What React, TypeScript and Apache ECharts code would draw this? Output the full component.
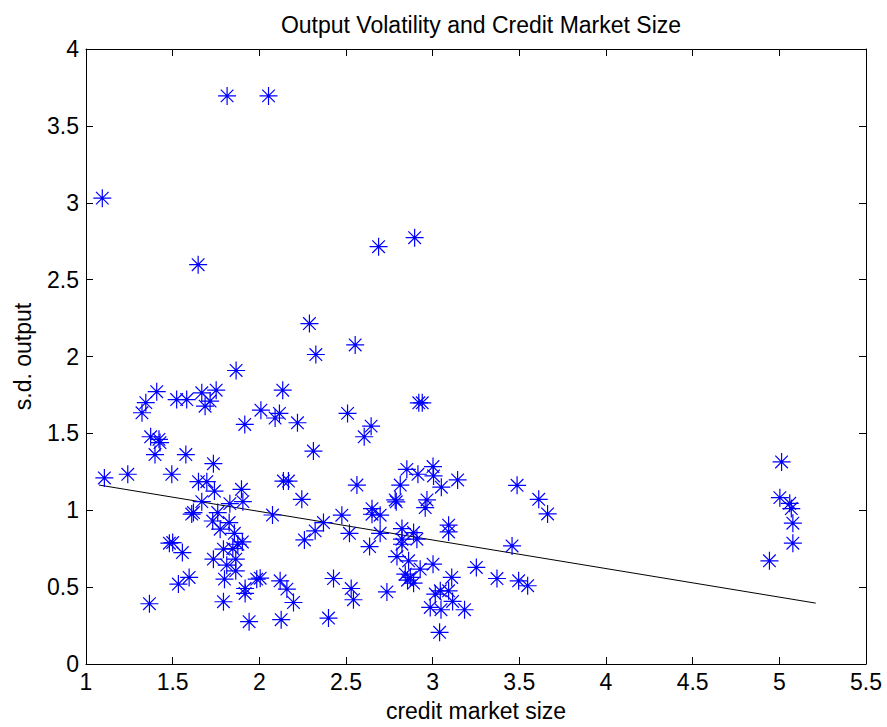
import React, { useEffect, useRef } from "react";
import * as echarts from "echarts";

const creditSize = [
  1.094, 1.814, 2.053, 1.647, 2.688, 2.896, 2.289, 2.553, 2.326, 1.866,
  1.408, 1.345, 1.323, 1.523, 1.581, 1.668, 1.751, 1.716, 1.687, 2.009,
  2.091, 1.916, 1.373, 1.421, 1.427, 1.398, 1.576, 1.735, 1.106, 1.241,
  1.495, 1.649, 1.697, 1.741, 1.897, 1.905, 1.83, 1.668, 1.62, 1.61,
  1.76, 2.076, 1.731, 1.774, 1.826, 1.856, 1.902, 1.876, 1.481, 1.5,
  1.556, 1.793, 1.847, 1.735, 1.812, 1.864, 1.864, 1.799, 1.595, 1.533,
  2.005, 1.985, 1.918, 1.918, 1.366, 1.793, 1.941, 2.135, 2.116, 2.22,
  2.509, 2.645, 2.605, 2.92, 2.94, 2.312, 2.139, 2.168, 2.245, 2.563,
  2.851, 2.915, 3.002, 3.005, 2.813, 2.784, 2.79, 2.967, 2.957, 2.65,
  2.65, 2.476, 2.697, 2.322, 2.37, 2.26, 2.52, 2.697, 2.636, 2.823,
  2.823, 2.89, 2.909, 2.823, 2.794, 2.861, 2.928, 3.002, 2.842, 2.871,
  2.89, 2.855, 2.12, 2.159, 2.197, 2.126, 2.399, 2.428, 2.53, 2.543,
  2.736, 2.986, 3.04, 3.015, 3.144, 3.05, 3.487, 3.612, 3.663, 3.092,
  3.092, 3.458, 3.11, 3.252, 3.371, 3.496, 3.548, 3.044, 3.092, 3.115,
  3.048, 3.184, 5.013, 5.003, 5.06, 5.069, 5.078, 5.078, 4.943,
];

const sdOutput = [
  3.03, 3.695, 3.695, 2.597, 2.714, 2.773, 2.214, 2.075, 2.013, 1.909,
  1.771, 1.7, 1.634, 1.72, 1.72, 1.764, 1.781, 1.71, 1.677, 1.651,
  1.6, 1.558, 1.478, 1.461, 1.44, 1.362, 1.362, 1.303, 1.21, 1.234,
  1.234, 1.186, 1.186, 1.125, 1.136, 1.056, 1.043, 1.056, 0.985, 0.975,
  0.985, 0.969, 0.93, 0.877, 0.92, 0.85, 0.794, 0.779, 0.786, 0.79,
  0.725, 0.747, 0.751, 0.682, 0.643, 0.682, 0.606, 0.552, 0.563, 0.52,
  0.558, 0.552, 0.491, 0.459, 0.392, 0.405, 0.275, 1.781, 1.63, 1.569,
  1.63, 1.547, 1.478, 1.699, 1.699, 1.385, 1.19, 1.19, 1.071, 1.164,
  1.266, 1.234, 1.284, 1.223, 1.164, 1.067, 1.055, 1.067, 1.017, 1.01,
  0.974, 0.968, 0.968, 0.866, 0.92, 0.807, 0.85, 0.85, 0.764, 0.881,
  0.812, 0.855, 0.812, 0.779, 0.699, 0.671, 0.617, 0.649, 0.584, 0.563,
  0.526, 0.545, 0.541, 0.487, 0.4, 0.288, 0.299, 0.556, 0.491, 0.418,
  0.469, 0.368, 0.206, 0.455, 1.197, 1.15, 1.162, 1.071, 0.976, 0.903,
  0.859, 0.768, 0.563, 0.628, 0.556, 0.541, 0.509, 0.476, 0.476, 0.407,
  0.353, 0.353, 1.314, 1.082, 1.045, 1.011, 0.916, 0.786, 0.671,
];

const fitX = [1.075, 5.21];
const fitY = [1.164, 0.396];

const FONT = "'Liberation Sans', Arial, Helvetica, sans-serif";
const ASTERISK = "path://M10,0 L10,20 M0,10 L20,10 M3,3 L17,17 M3,17 L17,3";

export default function App() {
  const ref = useRef<HTMLDivElement>(null);
  useEffect(() => {
    const chart = echarts.init(ref.current!, null, { renderer: "svg" });
    const axisCommon = {
      axisLine: { show: true, onZero: false, lineStyle: { color: "#000", width: 1 } },
      axisTick: { show: true, inside: true, length: 7, lineStyle: { color: "#000" } },
      splitLine: { show: false },
    };
    chart.setOption({
      animation: false,
      backgroundColor: "#fff",
      title: {
        text: "Output Volatility and Credit Market Size",
        left: 476,
        textAlign: "center",
        top: 8,
        textStyle: { fontFamily: FONT, fontSize: 23, fontWeight: "normal", color: "#000" },
      },
      grid: { left: 86, top: 49, width: 780, height: 616, containLabel: false },
      xAxis: [
        {
          type: "value",
          min: 1,
          max: 5.5,
          interval: 0.5,
          position: "bottom",
          name: "credit market size",
          nameLocation: "middle",
          nameGap: 35,
          nameTextStyle: { fontFamily: FONT, fontSize: 23, color: "#000" },
          axisLabel: { fontFamily: FONT, fontSize: 23, color: "#000", margin: 6 },
          ...axisCommon,
        },
        {
          type: "value",
          min: 1,
          max: 5.5,
          interval: 0.5,
          position: "top",
          axisLabel: { show: false },
          ...axisCommon,
        },
      ],
      yAxis: [
        {
          type: "value",
          min: 0,
          max: 4,
          interval: 0.5,
          position: "left",
          name: "s.d. output",
          nameLocation: "middle",
          nameRotate: 90,
          nameGap: 52,
          nameTextStyle: { fontFamily: FONT, fontSize: 23, color: "#000" },
          axisLabel: { fontFamily: FONT, fontSize: 23, color: "#000", margin: 7 },
          ...axisCommon,
        },
        {
          type: "value",
          min: 0,
          max: 4,
          interval: 0.5,
          position: "right",
          axisLabel: { show: false },
          ...axisCommon,
        },
      ],
      series: [
        {
          type: "scatter",
          xAxisIndex: 0,
          yAxisIndex: 0,
          symbol: ASTERISK,
          symbolSize: 18,
          itemStyle: { color: "transparent", borderColor: "#0000ff", borderWidth: 1.2, opacity: 1 },
          data: creditSize.map((x, i) => [x, sdOutput[i]]),
          z: 3,
        },
        {
          type: "line",
          xAxisIndex: 0,
          yAxisIndex: 0,
          symbol: "none",
          lineStyle: { color: "#000", width: 1 },
          data: fitX.map((x, i) => [x, fitY[i]]),
          z: 2,
        },
      ],
    });
    return () => chart.dispose();
  }, []);
  return (
    <div
      ref={ref}
      style={{ position: "absolute", left: 0, top: 0, width: 887, height: 727, background: "#fff" }}
    />
  );
}
